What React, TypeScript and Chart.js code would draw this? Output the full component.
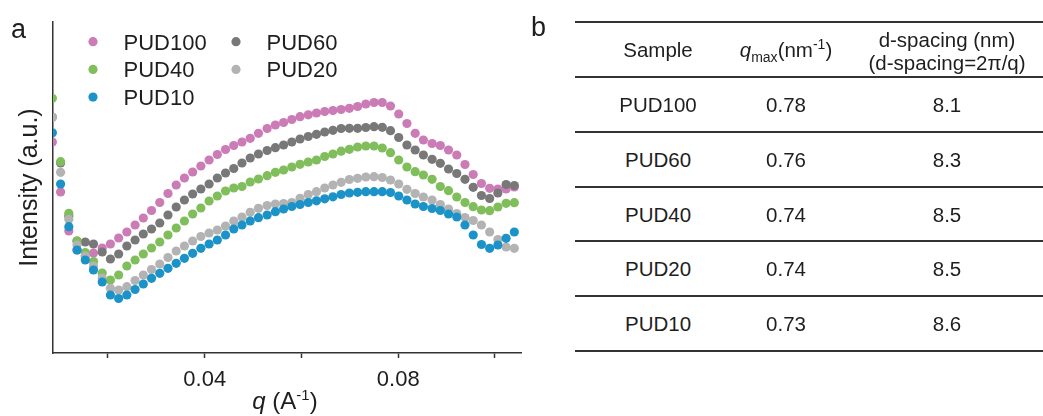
import React, { useEffect, useRef } from 'react';
import { Chart, registerables } from 'chart.js';

Chart.register(...registerables);

// q values (Å^-1)
const qValues = [
  0.0085, 0.0102, 0.0119, 0.0136, 0.0153, 0.0170, 0.0188, 0.0205, 0.0222, 0.0239,
  0.0256, 0.0273, 0.0290, 0.0307, 0.0324, 0.0341, 0.0358, 0.0375, 0.0392, 0.0409,
  0.0426, 0.0443, 0.0460, 0.0477, 0.0494, 0.0511, 0.0529, 0.0546, 0.0563, 0.0580,
  0.0597, 0.0614, 0.0631, 0.0648, 0.0665, 0.0682, 0.0699, 0.0716, 0.0733, 0.0750,
  0.0767, 0.0784, 0.0801, 0.0818, 0.0835, 0.0852, 0.0870, 0.0887, 0.0904, 0.0921,
  0.0938, 0.0955, 0.0972, 0.0989, 0.1006, 0.1023, 0.1040,
];

// Intensity (a.u.)
const pud100 = [
  2.11, 1.61, 1.22, 1.03, 0.97, 1.0, 1.05, 1.09, 1.15, 1.21,
  1.28, 1.35, 1.425, 1.505, 1.595, 1.68, 1.75, 1.81, 1.87, 1.93,
  1.985, 2.035, 2.075, 2.11, 2.147, 2.197, 2.245, 2.28, 2.305, 2.335,
  2.363, 2.382, 2.4, 2.415, 2.425, 2.435, 2.447, 2.465, 2.49, 2.505,
  2.505, 2.47, 2.39, 2.295, 2.197, 2.13, 2.095, 2.075, 2.03, 1.98,
  1.885, 1.785, 1.695, 1.647, 1.64, 1.64, 1.66,
];
const pud60 = [
  2.36, 1.9, 1.37, 1.12, 1.11, 1.09, 1.01, 0.94, 0.99, 1.07,
  1.13, 1.19, 1.24, 1.3, 1.38, 1.46, 1.53, 1.59, 1.64, 1.69,
  1.75, 1.8, 1.845, 1.9, 1.95, 1.99, 2.025, 2.053, 2.08, 2.11,
  2.14, 2.165, 2.187, 2.21, 2.227, 2.245, 2.247, 2.247, 2.255, 2.263,
  2.257, 2.223, 2.155, 2.08, 2.03, 1.98, 1.937, 1.897, 1.84, 1.795,
  1.737, 1.657, 1.575, 1.545, 1.6, 1.685, 1.675,
];
const pud40 = [
  2.547, 1.913, 1.397, 1.12, 1.005, 0.915, 0.8, 0.73, 0.78, 0.87,
  0.93, 0.99, 1.05, 1.11, 1.18, 1.25, 1.32, 1.39, 1.45, 1.52,
  1.57, 1.62, 1.65, 1.665, 1.71, 1.74, 1.773, 1.807, 1.83, 1.86,
  1.887, 1.91, 1.93, 1.965, 1.99, 2.018, 2.037, 2.06, 2.07, 2.07,
  2.05, 2.003, 1.93, 1.86, 1.813, 1.78, 1.737, 1.665, 1.623, 1.56,
  1.505, 1.463, 1.43, 1.423, 1.46, 1.497, 1.503,
];
const pud20 = [
  2.357, 1.807, 1.337, 1.08, 0.97, 0.87, 0.75, 0.647, 0.63, 0.663,
  0.725, 0.78, 0.835, 0.89, 0.955, 1.02, 1.07, 1.12, 1.165, 1.2,
  1.23, 1.27, 1.32, 1.36, 1.407, 1.447, 1.475, 1.49, 1.495, 1.505,
  1.547, 1.585, 1.613, 1.65, 1.68, 1.707, 1.735, 1.747, 1.76, 1.763,
  1.755, 1.73, 1.69, 1.637, 1.595, 1.56, 1.53, 1.485, 1.44, 1.395,
  1.355, 1.325, 1.28, 1.21, 1.135, 1.06, 1.047,
];
const pud10 = [
  2.203, 1.69, 1.263, 1.03, 0.93, 0.83, 0.71, 0.58, 0.545, 0.58,
  0.635, 0.69, 0.747, 0.797, 0.847, 0.897, 0.947, 0.997, 1.047, 1.09,
  1.13, 1.18, 1.24, 1.28, 1.32, 1.353, 1.38, 1.413, 1.44, 1.465,
  1.485, 1.505, 1.522, 1.542, 1.562, 1.585, 1.6, 1.607, 1.613, 1.613,
  1.613, 1.605, 1.57, 1.53, 1.49, 1.465, 1.445, 1.425, 1.39, 1.36,
  1.28, 1.18, 1.085, 1.047, 1.08, 1.147, 1.21,
];

const seriesNames = ['PUD100', 'PUD60', 'PUD40', 'PUD20', 'PUD10'];
const seriesColors = ['#CB7BB5', '#787878', '#80BD5B', '#B3B3B3', '#1C93C8'];
const seriesDrawOrder = [5, 4, 3, 2, 1];
const legendColumns = [
  ['PUD100', 'PUD40', 'PUD10'],
  ['PUD60', 'PUD20'],
];

const xTickValues = [0.02, 0.04, 0.06, 0.08, 0.1];
const xTickLabels = ['', '0.04', '', '0.08', ''];
const xMin = 0.00863;
const xMax = 0.10538;
const yMin = 0;
const yMax = 3.31;

const yTitle = 'Intensity (a.u.)';
const panelA = 'a';
const panelB = 'b';

// Table (panel b)
const tableSamples = ['PUD100', 'PUD60', 'PUD40', 'PUD20', 'PUD10'];
const tableQmax = ['0.78', '0.76', '0.74', '0.74', '0.73'];
const tableDSpacing = ['8.1', '8.3', '8.5', '8.5', '8.6'];

const FONT = "'Liberation Sans', Arial, Helvetica, sans-serif";
const TEXT = '#1e1e1e';
const POINT_R = 4.6;

const overlayPlugin = {
  id: 'overlay',
  afterDraw(chart: any) {
    const ctx = chart.ctx as CanvasRenderingContext2D;
    const area = chart.chartArea;
    ctx.save();
    ctx.fillStyle = TEXT;
    ctx.textAlign = 'left';
    ctx.textBaseline = 'alphabetic';
    // panel letter
    ctx.font = `27px ${FONT}`;
    ctx.fillText(panelA, 11, 38);

    // legend
    legendColumns.forEach((col, c) => {
      col.forEach((name, r) => {
        const ds = chart.data.datasets.find((d: any) => d.label === name);
        const mx = 93 + c * 143;
        const my = 41.7 + r * 27.7;
        ctx.beginPath();
        ctx.arc(mx, my, POINT_R, 0, Math.PI * 2);
        ctx.fillStyle = ds.backgroundColor;
        ctx.fill();
        ctx.fillStyle = TEXT;
        ctx.font = `22px ${FONT}`;
        ctx.fillText(name, mx + 30.5, my + 8);
      });
    });

    // x axis title: q (A^-1)
    const parts = [
      { t: 'q', f: `italic 24px ${FONT}`, dy: 0 },
      { t: ' (A', f: `24px ${FONT}`, dy: 0 },
      { t: '-1', f: `15px ${FONT}`, dy: -9 },
      { t: ')', f: `24px ${FONT}`, dy: 0 },
    ];
    let total = 0;
    const widths = parts.map((p) => {
      ctx.font = p.f;
      const w = ctx.measureText(p.t).width;
      total += w;
      return w;
    });
    let x = (area.left + area.right) / 2 - 2 - total / 2;
    const base = 409;
    parts.forEach((p, i) => {
      ctx.font = p.f;
      ctx.fillStyle = TEXT;
      ctx.fillText(p.t, x, base + p.dy);
      x += widths[i];
    });
    ctx.restore();
  },
};

function ScatterPanel() {
  const ref = useRef<HTMLCanvasElement>(null);
  useEffect(() => {
    const canvas = ref.current;
    if (!canvas) return;
    const seriesData = [pud100, pud60, pud40, pud20, pud10];
    const datasets = seriesNames.map((name, k) => ({
      label: name,
      data: qValues.map((q, i) => ({ x: q, y: seriesData[k][i] })),
      backgroundColor: seriesColors[k],
      borderColor: seriesColors[k],
      borderWidth: 0,
      pointRadius: POINT_R,
      pointHoverRadius: POINT_R,
      showLine: false,
      clip: 0,
      order: seriesDrawOrder[k],
    }));
    const chart = new Chart(canvas, {
      type: 'scatter',
      data: { datasets },
      options: {
        animation: false,
        responsive: false,
        events: [],
        layout: { padding: { left: 0, right: 19, top: 22, bottom: 0 } },
        plugins: {
          legend: { display: false },
          tooltip: { enabled: false },
        },
        scales: {
          x: {
            type: 'linear',
            min: xMin,
            max: xMax,
            afterBuildTicks: (s: any) => {
              s.ticks = xTickValues.map((v) => ({ value: v }));
            },
            afterFit: (s: any) => {
              s.height = 63;
            },
            ticks: {
              autoSkip: false,
              maxRotation: 0,
              minRotation: 0,
              padding: 9,
              color: TEXT,
              font: { family: FONT, size: 22 },
              callback: (v: any) => {
                const idx = xTickValues.findIndex((t) => Math.abs(t - Number(v)) < 1e-9);
                return idx >= 0 ? xTickLabels[idx] : '';
              },
            },
            grid: {
              display: true,
              drawOnChartArea: false,
              drawTicks: true,
              tickLength: 5,
              tickColor: '#333',
              tickWidth: 1.5,
            },
            border: { display: true, color: '#333', width: 1.5 },
          },
          y: {
            type: 'linear',
            min: yMin,
            max: yMax,
            afterFit: (s: any) => {
              s.width = 53;
            },
            ticks: { display: false },
            grid: { display: false },
            border: { display: true, color: '#333', width: 1.5 },
            title: {
              display: true,
              text: yTitle,
              color: TEXT,
              font: { family: FONT, size: 25 },
              padding: { top: 15, bottom: 0 },
            },
          },
        },
      },
      plugins: [overlayPlugin],
    } as any);
    return () => chart.destroy();
  }, []);
  return (
    <canvas
      ref={ref}
      width={540}
      height={416}
      style={{ position: 'absolute', left: 0, top: 0, width: 540, height: 416 }}
    />
  );
}

function TablePanel() {
  const lineYs = [22, 77, 132, 187, 241, 296, 351];
  const colCenters = [658, 786, 947];
  const cell = (key: string, cx: number, top: number, bottom: number, content: React.ReactNode) => (
    <div
      key={key}
      style={{
        position: 'absolute',
        left: cx - 110,
        width: 220,
        top,
        height: bottom - top,
        display: 'flex',
        alignItems: 'center',
        justifyContent: 'center',
        textAlign: 'center',
        fontFamily: FONT,
        fontSize: 20.5,
        lineHeight: '23px',
        color: TEXT,
        whiteSpace: 'nowrap',
      }}
    >
      <div>{content}</div>
    </div>
  );
  const rows: React.ReactNode[] = [];
  rows.push(cell('h0', colCenters[0], lineYs[0], lineYs[1], 'Sample'));
  rows.push(
    cell(
      'h1',
      colCenters[1],
      lineYs[0],
      lineYs[1],
      <span>
        <i>q</i>
        <span style={{ fontSize: 14, verticalAlign: -5, lineHeight: 0 }}>max</span>
        (nm<span style={{ fontSize: 14, verticalAlign: 8, lineHeight: 0 }}>-1</span>)
      </span>
    )
  );
  rows.push(
    cell(
      'h2',
      colCenters[2],
      lineYs[0] + 1,
      lineYs[1] + 1,
      <span>
        d-spacing (nm)
        <br />
        (d-spacing=2π/q)
      </span>
    )
  );
  tableSamples.forEach((s, r) => {
    const top = lineYs[r + 1];
    const bottom = lineYs[r + 2];
    rows.push(cell(`s${r}`, colCenters[0], top, bottom, s));
    rows.push(cell(`q${r}`, colCenters[1], top, bottom, tableQmax[r]));
    rows.push(cell(`d${r}`, colCenters[2], top, bottom, tableDSpacing[r]));
  });
  return (
    <>
      <div
        style={{
          position: 'absolute',
          left: 531,
          top: 14,
          fontFamily: FONT,
          fontSize: 27,
          lineHeight: '27px',
          color: TEXT,
        }}
      >
        {panelB}
      </div>
      {lineYs.map((y, i) => (
        <div
          key={`l${i}`}
          style={{
            position: 'absolute',
            left: 575,
            width: 468,
            top: y - 1,
            height: 1.6,
            background: '#333',
          }}
        />
      ))}
      {rows}
    </>
  );
}

export default function App() {
  return (
    <div
      style={{
        position: 'absolute',
        left: 0,
        top: 0,
        width: 1043,
        height: 416,
        background: '#fff',
        overflow: 'hidden',
      }}
    >
      <ScatterPanel />
      <TablePanel />
    </div>
  );
}
